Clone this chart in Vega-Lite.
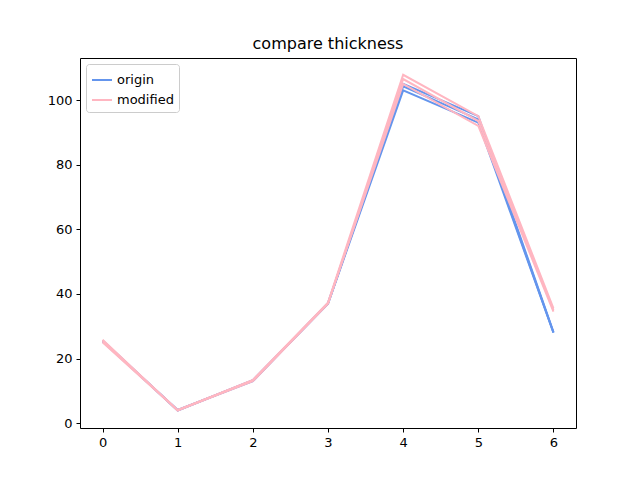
{
  "$schema": "https://vega.github.io/schema/vega-lite/v6.json",
  "width": 496,
  "height": 370,
  "autosize": "none",
  "padding": {"left": 80, "top": 58, "right": 64, "bottom": 52},
  "config": {
    "font": "DejaVu Sans",
    "view": {"stroke": "black", "strokeWidth": 1},
    "axis": {"grid": false, "domain": false, "tickColor": "black", "labelColor": "black", "labelFontSize": 13, "tickSize": 4, "labelPadding": 4}
  },
  "title": {"text": "compare thickness", "fontSize": 16, "fontWeight": "normal", "offset": 6},
  "data": {
    "values": [
      {"s": "o1", "g": "origin", "x": 0, "y": 25.5}, {"s": "o1", "g": "origin", "x": 1, "y": 4}, {"s": "o1", "g": "origin", "x": 2, "y": 13.2}, {"s": "o1", "g": "origin", "x": 3, "y": 37}, {"s": "o1", "g": "origin", "x": 4, "y": 103}, {"s": "o1", "g": "origin", "x": 5, "y": 93}, {"s": "o1", "g": "origin", "x": 6, "y": 28},
      {"s": "o2", "g": "origin", "x": 0, "y": 25.3}, {"s": "o2", "g": "origin", "x": 1, "y": 4.1}, {"s": "o2", "g": "origin", "x": 2, "y": 13}, {"s": "o2", "g": "origin", "x": 3, "y": 37.2}, {"s": "o2", "g": "origin", "x": 4, "y": 104.2}, {"s": "o2", "g": "origin", "x": 5, "y": 94}, {"s": "o2", "g": "origin", "x": 6, "y": 28},
      {"s": "o3", "g": "origin", "x": 0, "y": 25.6}, {"s": "o3", "g": "origin", "x": 1, "y": 3.9}, {"s": "o3", "g": "origin", "x": 2, "y": 13.3}, {"s": "o3", "g": "origin", "x": 3, "y": 37}, {"s": "o3", "g": "origin", "x": 4, "y": 105}, {"s": "o3", "g": "origin", "x": 5, "y": 95}, {"s": "o3", "g": "origin", "x": 6, "y": 28.2},
      {"s": "m1", "g": "modified", "x": 0, "y": 25}, {"s": "m1", "g": "modified", "x": 1, "y": 4}, {"s": "m1", "g": "modified", "x": 2, "y": 13}, {"s": "m1", "g": "modified", "x": 3, "y": 37}, {"s": "m1", "g": "modified", "x": 4, "y": 105}, {"s": "m1", "g": "modified", "x": 5, "y": 92}, {"s": "m1", "g": "modified", "x": 6, "y": 34.5},
      {"s": "m2", "g": "modified", "x": 0, "y": 25.4}, {"s": "m2", "g": "modified", "x": 1, "y": 4.1}, {"s": "m2", "g": "modified", "x": 2, "y": 13.2}, {"s": "m2", "g": "modified", "x": 3, "y": 37.1}, {"s": "m2", "g": "modified", "x": 4, "y": 106.5}, {"s": "m2", "g": "modified", "x": 5, "y": 93.5}, {"s": "m2", "g": "modified", "x": 6, "y": 35},
      {"s": "m3", "g": "modified", "x": 0, "y": 25.8}, {"s": "m3", "g": "modified", "x": 1, "y": 3.9}, {"s": "m3", "g": "modified", "x": 2, "y": 13.4}, {"s": "m3", "g": "modified", "x": 3, "y": 37.3}, {"s": "m3", "g": "modified", "x": 4, "y": 107.8}, {"s": "m3", "g": "modified", "x": 5, "y": 95}, {"s": "m3", "g": "modified", "x": 6, "y": 35.5}
    ]
  },
  "mark": {"type": "line", "strokeWidth": 2},
  "encoding": {
    "x": {"field": "x", "type": "quantitative", "title": null, "scale": {"domain": [-0.3, 6.3], "nice": false, "zero": false}, "axis": {"values": [0, 1, 2, 3, 4, 5, 6]}},
    "y": {"field": "y", "type": "quantitative", "title": null, "scale": {"domain": [-1.5, 113], "nice": false, "zero": false}, "axis": {"values": [0, 20, 40, 60, 80, 100]}},
    "detail": {"field": "s"},
    "order": {"field": "s", "sort": "descending"},
    "color": {
      "field": "g", "type": "nominal",
      "scale": {"domain": ["origin", "modified"], "range": ["#6495ED", "#FFB6C1"]},
      "legend": {"title": null, "orient": "top-left", "offset": 6, "symbolType": "stroke", "symbolSize": 400, "symbolStrokeWidth": 2, "labelFontSize": 13, "strokeColor": "#cccccc", "padding": 5, "cornerRadius": 3, "fillColor": "white"}
    }
  }
}
